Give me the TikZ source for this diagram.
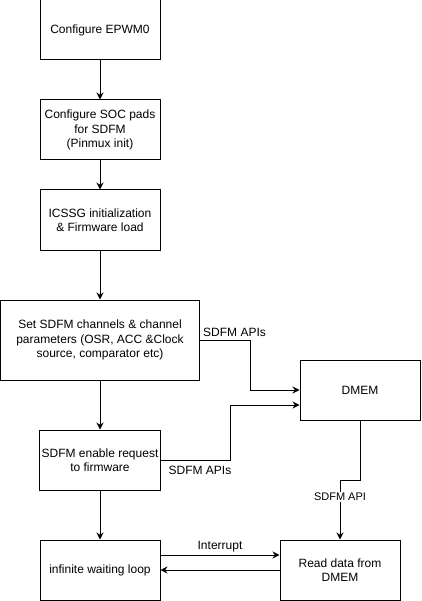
\documentclass[tikz,border=0pt]{standalone}
\usepackage{fontspec}
\setmainfont{Liberation Sans}
\usetikzlibrary{arrows.meta}
\begin{document}
\begin{tikzpicture}[x=1pt,y=-1pt,
	box/.style={draw,line width=1pt,minimum width=120pt,minimum height=60pt,align=center,inner sep=2pt,font=\fontsize{12}{14.4}\selectfont},
	flow/.style={-{Stealth[length=7pt,width=7pt]},line width=1pt},
	lbl/.style={font=\fontsize{12}{14.4}\selectfont,inner sep=1pt}]
	\useasboundingbox (0,0) rectangle (421,601);
	% main column
	\node[box] (epwm) at (100,30) {Configure EPWM0};
	\node[box] (pads) at (100,130) {Configure SOC pads\\for SDFM\\(Pinmux init)};
	\node[box] (icssg) at (100,220) {ICSSG initialization\\\& Firmware load};
	\node[box,minimum width=199pt,minimum height=80pt] (chan) at (100,340) {Set SDFM channels \& channel\\parameters (OSR, ACC \&Clock\\source, comparator etc)};
	\node[box] (enable) at (100,460) {SDFM enable request\\to firmware};
	\node[box] (loop) at (100,570) {infinite waiting loop};
	% right side
	\node[box] (dmem) at (360,390) {DMEM};
	\node[box] (read) at (340,570) {Read data from\\DMEM};
	\draw[flow] (epwm) -- (pads);
	\draw[flow] (pads) -- (icssg);
	\draw[flow] (icssg) -- (chan);
	\draw[flow] (chan) -- (enable);
	\draw[flow] (enable) -- (loop);
	\draw[flow] (chan.east) -| (250,390) -- (dmem.west);
	\node[lbl,anchor=west] (api1) at (202,332) {SDFM APIs};
	\draw[flow] (enable.east) -| (230,405) -- ([yshift=-15pt]dmem.west);
	\node[lbl] (api2) at (200,470) {SDFM APIs};
	\draw[flow] (dmem.south) -- (360,480) -| (read.north);
	\node[lbl,fill=white,font=\fontsize{11}{13}\selectfont] (api3) at (340,497) {SDFM API};
	\draw[flow] ([yshift=15pt]loop.east) -- ([yshift=15pt]read.west) node[lbl,midway,above=2pt] (irq) {Interrupt};
	\draw[flow] (read.west) -- (loop.east);
\end{tikzpicture}
\end{document}
